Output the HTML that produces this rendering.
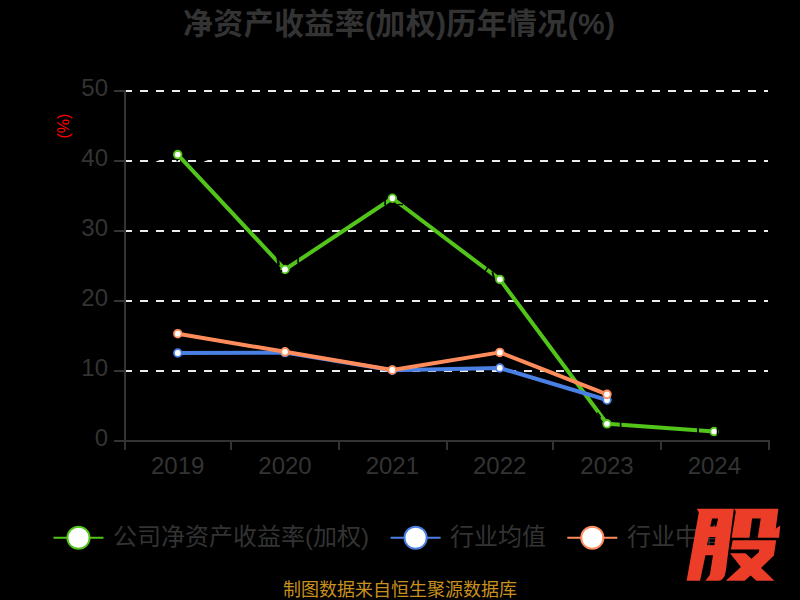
<!DOCTYPE html>
<html lang="zh"><head><meta charset="utf-8"><title>净资产收益率(加权)历年情况(%)</title>
<style>html,body{margin:0;padding:0;background:#000;}body{width:800px;height:600px;overflow:hidden;font-family:"Liberation Sans","Noto Sans CJK SC",sans-serif;}svg{display:block;}text{font-family:"Liberation Sans","Noto Sans CJK SC",sans-serif;}</style>
</head><body>
<svg width="800" height="600" viewBox="0 0 800 600">
<rect width="800" height="600" fill="#000"/>
<g id="title" fill="#333"><text x="399" y="34" font-size="30" font-weight="bold" text-anchor="middle" textLength="432" lengthAdjust="spacing">净资产收益率(加权)历年情况(%)</text></g>
<g id="grid" stroke="#ececec" stroke-width="2" stroke-dasharray="8 8" fill="none">
<line x1="124" y1="91" x2="768" y2="91"/>
<line x1="124" y1="161" x2="768" y2="161"/>
<line x1="124" y1="231" x2="768" y2="231"/>
<line x1="124" y1="301" x2="768" y2="301"/>
<line x1="124" y1="371" x2="768" y2="371"/>
</g>
<g id="axes" stroke="#333" stroke-width="2" fill="none">
<line x1="125" y1="90" x2="125" y2="442"/>
<line x1="124" y1="441" x2="770" y2="441"/>
<line x1="114" y1="91" x2="125" y2="91"/>
<line x1="114" y1="161" x2="125" y2="161"/>
<line x1="114" y1="231" x2="125" y2="231"/>
<line x1="114" y1="301" x2="125" y2="301"/>
<line x1="114" y1="371" x2="125" y2="371"/>
<line x1="114" y1="441" x2="125" y2="441"/>
<line x1="125" y1="441" x2="125" y2="450"/>
<line x1="231" y1="441" x2="231" y2="450"/>
<line x1="339" y1="441" x2="339" y2="450"/>
<line x1="447" y1="441" x2="447" y2="450"/>
<line x1="553" y1="441" x2="553" y2="450"/>
<line x1="661" y1="441" x2="661" y2="450"/>
<line x1="769" y1="441" x2="769" y2="450"/>
</g>
<g id="ylabels" fill="#333" font-size="24" text-anchor="end">
<text x="108" y="96">50</text>
<text x="108" y="166">40</text>
<text x="108" y="236">30</text>
<text x="108" y="306">20</text>
<text x="108" y="376">10</text>
<text x="108" y="446">0</text>
</g>
<g id="xlabels" fill="#333" font-size="24" text-anchor="middle">
<text x="177.67" y="474">2019</text>
<text x="285" y="474">2020</text>
<text x="392.33" y="474">2021</text>
<text x="499.67" y="474">2022</text>
<text x="607" y="474">2023</text>
<text x="714.33" y="474">2024</text>
</g>
<g id="yname" fill="#ff0000" transform="translate(63.35 126.1) rotate(-90)"><text x="0" y="5.5" font-size="16" text-anchor="middle">(%)</text></g>
<g id="s-company">
<polyline points="177.7,154.6 285,269.5 392.4,198.25 499.85,279.4 607,423.8 714.1,431.6" fill="none" stroke="#52c41a" stroke-width="4" stroke-linejoin="bevel"/>
<circle cx="177.7" cy="154.6" r="3.82" fill="#fff" stroke="#52c41a" stroke-width="1.85"/>
<circle cx="285" cy="269.5" r="3.82" fill="#fff" stroke="#52c41a" stroke-width="1.85"/>
<circle cx="392.4" cy="198.25" r="3.82" fill="#fff" stroke="#52c41a" stroke-width="1.85"/>
<circle cx="499.85" cy="279.4" r="3.82" fill="#fff" stroke="#52c41a" stroke-width="1.85"/>
<circle cx="607" cy="423.8" r="3.82" fill="#fff" stroke="#52c41a" stroke-width="1.85"/>
<circle cx="714.1" cy="431.6" r="3.82" fill="#fff" stroke="#52c41a" stroke-width="1.85"/>
</g>
<g id="label-remnants" fill="#000" stroke="#000" stroke-linecap="butt">
<path stroke="none" d="M155.5 159.4L161 159.4L155.5 161.7ZM203.5 159.4L209.5 159.4L203.5 161.8Z"/>
<circle cx="177.2" cy="160.4" r="1" stroke="none"/>
<line x1="277.5" y1="256" x2="278.7" y2="265.5" stroke-width="2.5"/>
<line x1="298.1" y1="257.5" x2="298.1" y2="263.5" stroke-width="1.7"/>
<rect x="279.8" y="270" width="2.2" height="2.4" stroke="none"/>
<line x1="385.1" y1="200" x2="385.1" y2="205.5" stroke-width="1.6"/>
<line x1="397.5" y1="204.6" x2="403" y2="204.6" stroke-width="1.3"/>
<line x1="488" y1="266.8" x2="485.4" y2="271.2" stroke-width="1.6"/>
<line x1="492.3" y1="271.5" x2="494.2" y2="279" stroke-width="1.8"/>
<line x1="597.3" y1="412.8" x2="600.6" y2="417.6" stroke-width="1.8"/>
<line x1="620.6" y1="422" x2="620.6" y2="427.6" stroke-width="1.6"/>
<line x1="698" y1="427.5" x2="698" y2="434.5" stroke-width="1.8"/>
<line x1="717.6" y1="427.6" x2="717.6" y2="435.6" stroke-width="1.6"/>
</g>
<g id="s-mean">
<polyline points="177.8,353 285,352.6 392.3,370.2 499.8,368 607,400" fill="none" stroke="#4a80e3" stroke-width="4" stroke-linejoin="bevel"/>
<circle cx="177.8" cy="353" r="3.82" fill="#fff" stroke="#4a80e3" stroke-width="1.85"/>
<circle cx="285" cy="352.6" r="3.82" fill="#fff" stroke="#4a80e3" stroke-width="1.85"/>
<circle cx="392.3" cy="370.2" r="3.82" fill="#fff" stroke="#4a80e3" stroke-width="1.85"/>
<circle cx="499.8" cy="368" r="3.82" fill="#fff" stroke="#4a80e3" stroke-width="1.85"/>
<circle cx="607" cy="400" r="3.82" fill="#fff" stroke="#4a80e3" stroke-width="1.85"/>
</g>
<g id="s-median">
<polyline points="177.8,333.7 285,351.8 392.3,370 499.8,352.4 607,394.3" fill="none" stroke="#ff8c5a" stroke-width="4" stroke-linejoin="bevel"/>
<circle cx="177.8" cy="333.7" r="3.82" fill="#fff" stroke="#ff8c5a" stroke-width="1.85"/>
<circle cx="285" cy="351.8" r="3.82" fill="#fff" stroke="#ff8c5a" stroke-width="1.85"/>
<circle cx="392.3" cy="370" r="3.82" fill="#fff" stroke="#ff8c5a" stroke-width="1.85"/>
<circle cx="499.8" cy="352.4" r="3.82" fill="#fff" stroke="#ff8c5a" stroke-width="1.85"/>
<circle cx="607" cy="394.3" r="3.82" fill="#fff" stroke="#ff8c5a" stroke-width="1.85"/>
</g>
<g id="legend">
<line x1="53.5" y1="537.75" x2="103.5" y2="537.75" stroke="#52c41a" stroke-width="2.2"/>
<circle cx="78.5" cy="537.75" r="11.1" fill="#fff" stroke="#52c41a" stroke-width="2"/>
<line x1="390.6" y1="537.75" x2="440.6" y2="537.75" stroke="#4a80e3" stroke-width="2.2"/>
<circle cx="415.6" cy="537.75" r="11.1" fill="#fff" stroke="#4a80e3" stroke-width="2"/>
<line x1="567.3" y1="537.75" x2="617.3" y2="537.75" stroke="#ff8c5a" stroke-width="2.2"/>
<circle cx="592.3" cy="537.75" r="11.1" fill="#fff" stroke="#ff8c5a" stroke-width="2"/>
<text x="113" y="545" font-size="24" fill="#333">公司净资产收益率(加权)</text>
<text x="450" y="545" font-size="24" fill="#333">行业均值</text>
<text x="627" y="545" font-size="24" fill="#333">行业中值</text>
</g>
<path id="logo" fill="#eb3d27" fill-rule="evenodd" d="M696.75 508.65L733.85 508.65L725.75 571.5Q724.2 580.75 718.3 580.75L705.4 580.75L709.9 574.75L712.95 555.3L705.45 555.3L700.1 580.75L686.6 580.75L698.8 512.6ZM712.1 518.6L718.1 518.6L716.25 526.5L710.25 526.5ZM708.75 537L715.5 537L714.4 545.25L706.9 545.25ZM734.1 508.65L778.4 508.65L775.75 528.75L780.25 525.6L779.1 537.75L757.75 537.75L760.75 518.6L752.1 518.6L749.5 537.75L731.6 537.75L735.8 511.5ZM732.7 540.2L776.2 540.2L773.9 555.5L761.1 567.9L774.4 580.7L756.5 580.7L750.6 575.4L744.6 580.7L725.8 580.7L740.9 567L730 553.2L745.5 553.2L751.5 558.7L758.8 552.3L759.3 549.6L730.9 549.6Z"/>
<g id="footer" fill="#c8901e"><text x="400" y="596" font-size="18" text-anchor="middle">制图数据来自恒生聚源数据库</text></g>
</svg>
</body></html>
